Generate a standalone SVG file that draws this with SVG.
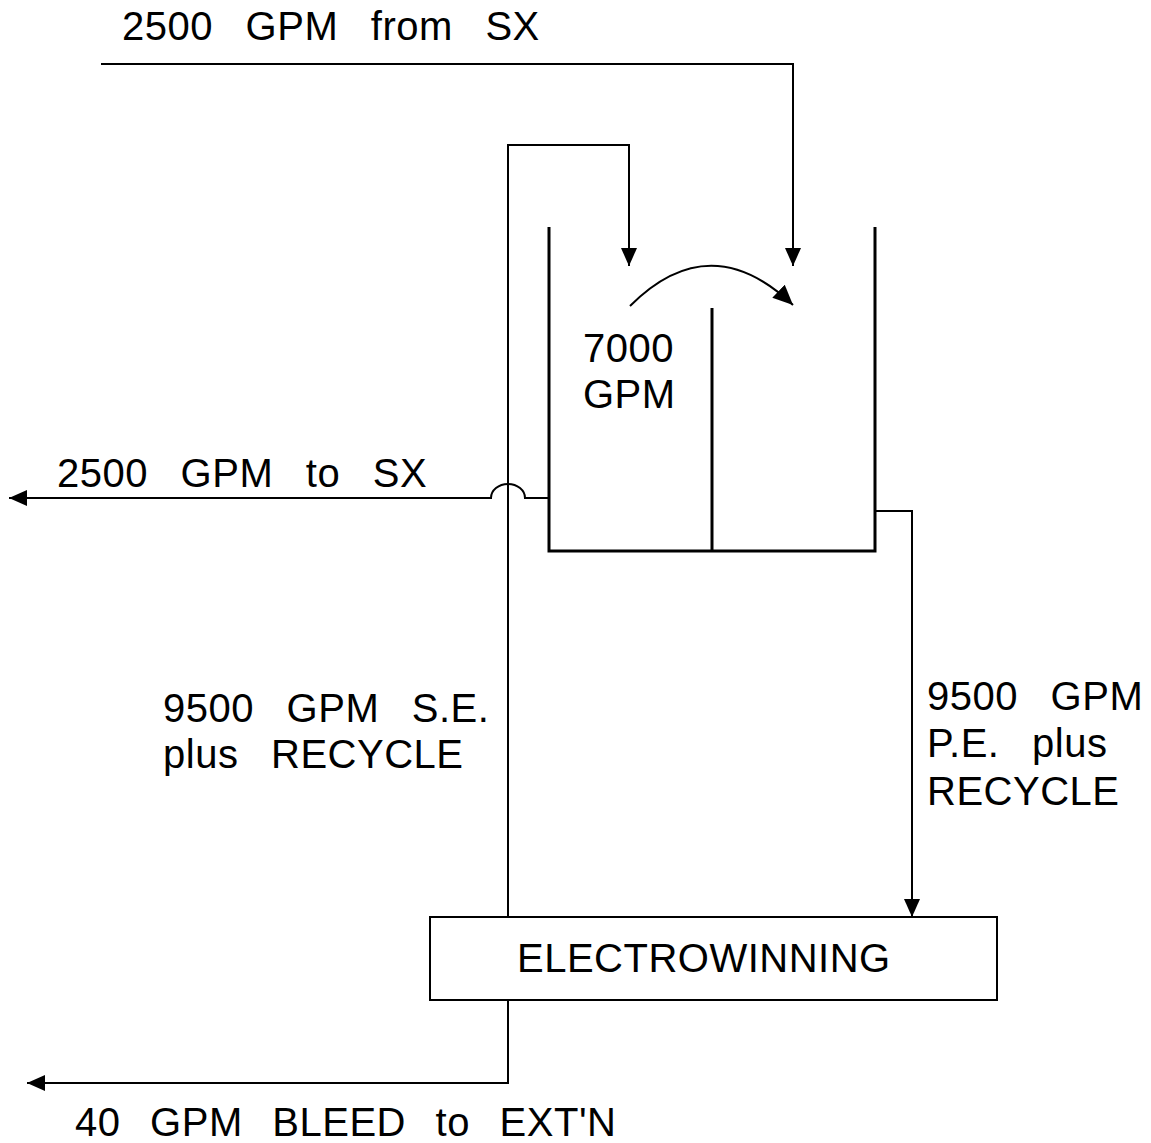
<svg xmlns="http://www.w3.org/2000/svg" width="1151" height="1143" viewBox="0 0 1151 1143">
<defs>
<marker id="ah" viewBox="0 0 18 16" refX="18" refY="8" markerWidth="18" markerHeight="16" markerUnits="userSpaceOnUse" orient="auto">
<path d="M0,0 L18,8 L0,16 Z" fill="#000"/>
</marker>
<marker id="ah2" viewBox="0 0 20 18" refX="20" refY="9" markerWidth="20" markerHeight="18" markerUnits="userSpaceOnUse" orient="auto">
<path d="M0,0 L20,9 L0,18 Z" fill="#000"/>
</marker>
</defs>
<style>
.ln{fill:none;stroke:#000;stroke-width:2}
.wall{fill:none;stroke:#000;stroke-width:3}
text{font-family:"Liberation Sans",Arial,sans-serif;font-size:40px;letter-spacing:0.5px;fill:#000}
.ws{word-spacing:21px}
.ws2{word-spacing:18px}
</style>
<g id="connectors">
<path class="ln" d="M101,64 H793 V266" marker-end="url(#ah)"/>
<path class="ln" d="M508,917 V145 H629 V266" marker-end="url(#ah)"/>
<path class="ln" d="M549,498 H525 A17,14 0 0 0 491,498 H9" marker-end="url(#ah)"/>
<path class="ln" d="M875,511 H912 V917" marker-end="url(#ah)"/>
<path class="ln" d="M508,1000 V1083 H27" marker-end="url(#ah)"/>
<path class="ln" d="M630,306 Q710,226 793,305" marker-end="url(#ah2)"/>
</g>
<g id="tank">
<path class="wall" d="M549,227 V551 H875 V227"/>
<path class="wall" d="M712,308 V551"/>
</g>
<g id="electrowinning">
<rect x="430" y="917" width="567" height="83" class="ln"/>
<text x="517" y="972">ELECTROWINNING</text>
</g>
<g id="labels">
<text class="ws" x="122" y="40">2500 GPM from SX</text>
<text x="583" y="362">7000</text>
<text x="583" y="408">GPM</text>
<text class="ws" x="57" y="487">2500 GPM to SX</text>
<text class="ws" x="163" y="722">9500 GPM S.E.</text>
<text class="ws" x="163" y="768">plus RECYCLE</text>
<text class="ws" x="927" y="710">9500 GPM</text>
<text class="ws" x="927" y="757">P.E. plus</text>
<text x="927" y="805">RECYCLE</text>
<text class="ws2" x="75" y="1136">40 GPM BLEED to EXT'N</text>
</g>
</svg>
